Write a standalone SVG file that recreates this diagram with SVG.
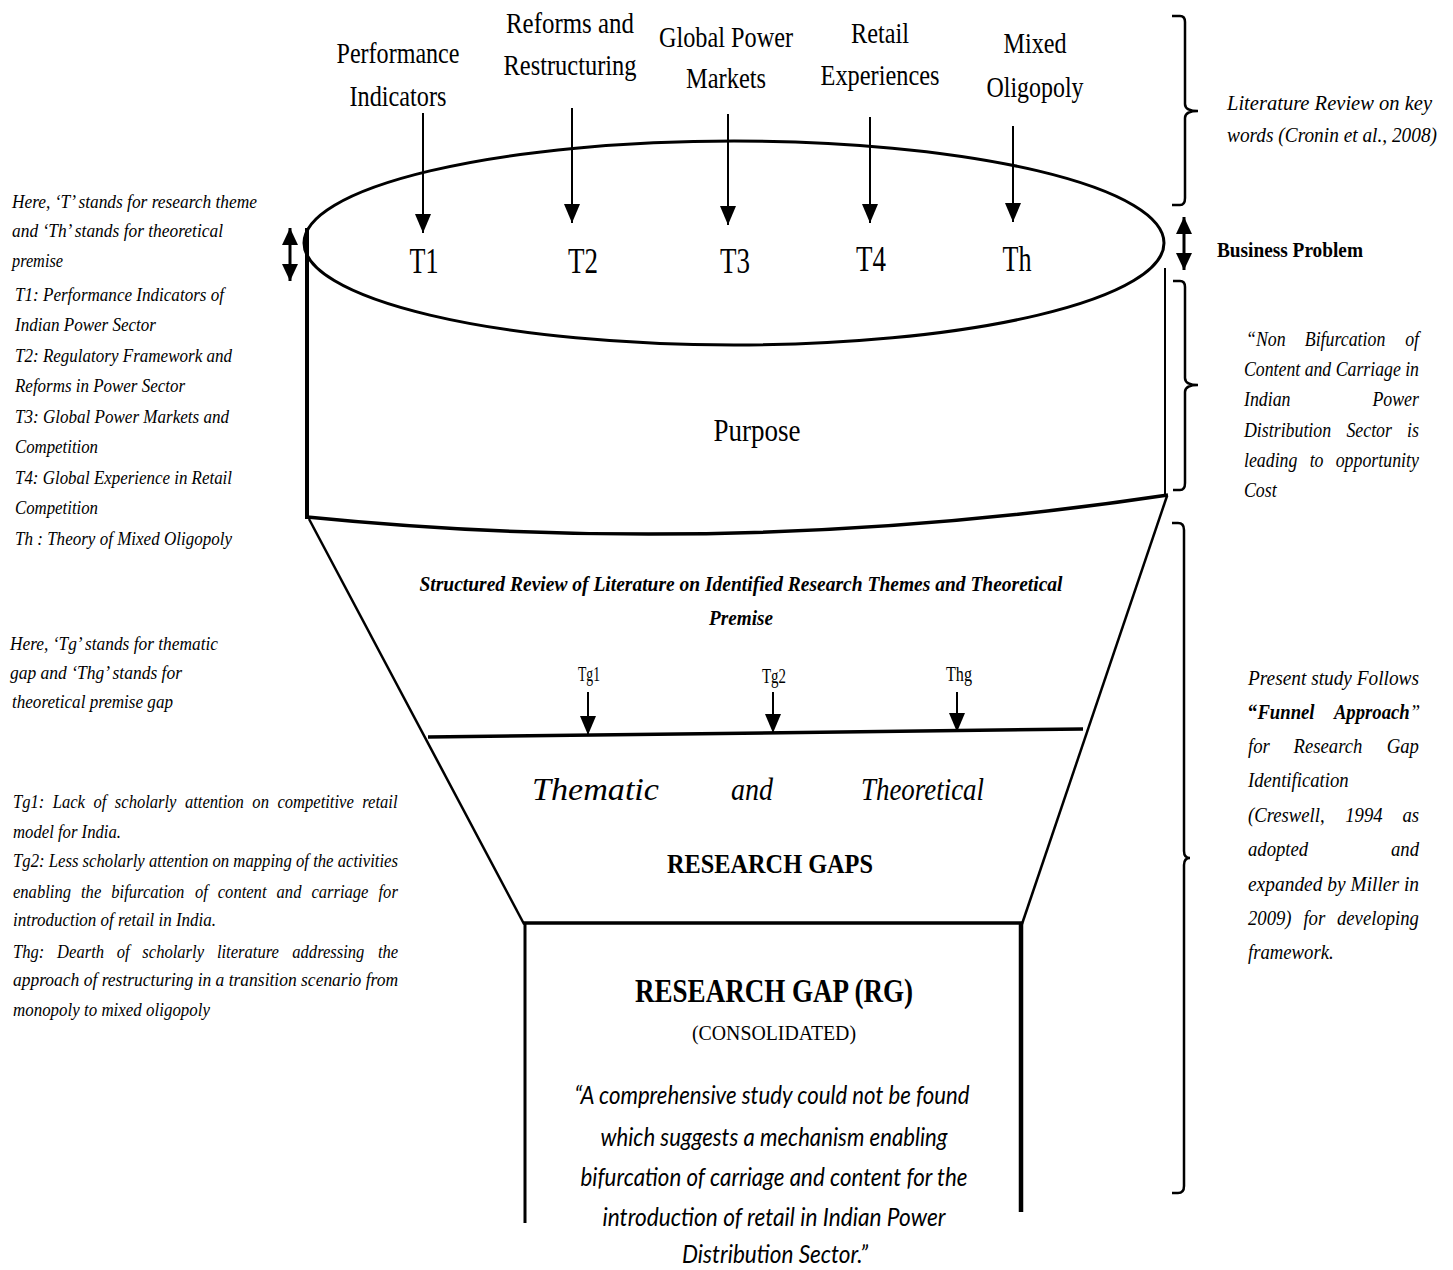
<svg xmlns="http://www.w3.org/2000/svg" width="1453" height="1270" viewBox="0 0 1453 1270">
<style>
  .s { font-family: "Liberation Serif", "Times New Roman", serif; fill: #000; }
  .it { font-style: italic; }
  .b { font-weight: bold; }
  .top { font-size: 30px; text-anchor: middle; }
  .tl { font-size: 36px; text-anchor: middle; }
  .lt { font-size: 19px; font-style: italic; }
  .rt { font-size: 21px; font-style: italic; }
  .q { font-family: Lato, "Open Sans", sans-serif; font-style: italic; font-size: 25px; fill: #000; }
  .ln { fill: none; stroke: #000; stroke-linecap: butt; }
  .arr { stroke: #000; stroke-width: 2; marker-end: url(#ah); }
  .dbl { stroke: #000; stroke-width: 3; marker-start: url(#dh); marker-end: url(#dh); }
</style>
<defs>
  <marker id="ah" markerUnits="userSpaceOnUse" markerWidth="20" markerHeight="18" refX="19" refY="8" orient="auto">
    <path d="M0,0 L19,8 L0,16 z" fill="#000"/>
  </marker>
  <marker id="dh" markerUnits="userSpaceOnUse" markerWidth="18" markerHeight="16" refX="17" refY="8" orient="auto-start-reverse">
    <path d="M0,0 L17,8 L0,16 z" fill="#000"/>
  </marker>
</defs>
<rect width="1453" height="1270" fill="#fff"/>

<!-- Funnel body shapes -->
<g id="cylinder">
  <ellipse cx="734" cy="243" rx="430" ry="102" class="ln" stroke-width="3"/>
  <line x1="307" y1="228" x2="307" y2="519" class="ln" stroke-width="4"/>
  <line x1="1165" y1="268" x2="1165" y2="497" class="ln" stroke-width="2"/>
  <path d="M307,517 Q735,560 1168,495" class="ln" stroke-width="3.5"/>
</g>
<g id="funnel">
  <line x1="309" y1="519" x2="524" y2="924" class="ln" stroke-width="2.5"/>
  <line x1="1167" y1="496" x2="1022" y2="924" class="ln" stroke-width="2.5"/>
  <line x1="428" y1="737" x2="1083" y2="729" class="ln" stroke-width="3.5"/>
</g>
<g id="rg-box">
  <line x1="523" y1="923" x2="1023" y2="923" class="ln" stroke-width="3.5"/>
  <line x1="525" y1="922" x2="525" y2="1223" class="ln" stroke-width="3"/>
  <line x1="1021" y1="922" x2="1021" y2="1212" class="ln" stroke-width="4.5"/>
</g>

<!-- Connectors -->
<g id="connectors">
  <line x1="423" y1="113" x2="423" y2="233" class="arr"/>
  <line x1="572" y1="108" x2="572" y2="223" class="arr"/>
  <line x1="728" y1="114" x2="728" y2="225" class="arr"/>
  <line x1="870" y1="117" x2="870" y2="223" class="arr"/>
  <line x1="1013" y1="126" x2="1013" y2="222" class="arr"/>
  <line x1="588" y1="692" x2="588" y2="735" class="arr"/>
  <line x1="773" y1="692" x2="773" y2="733" class="arr"/>
  <line x1="957" y1="692" x2="957" y2="732" class="arr"/>
  <line x1="290" y1="228" x2="290" y2="281" class="dbl"/>
  <line x1="1184" y1="217" x2="1184" y2="270" class="dbl"/>
</g>

<!-- Brackets -->
<g id="brackets" class="ln" stroke-width="2.5">
  <path d="M1172,16 L1180,16 Q1185,16 1185,22 L1185,104 Q1185,111 1198,111 Q1185,111 1185,118 L1185,198 Q1185,205 1180,205 L1172,205"/>
  <path d="M1173,281 L1180,281 Q1185,281 1185,287 L1185,378 Q1185,385 1198,385 Q1185,385 1185,392 L1185,483 Q1185,490 1180,490 L1173,490"/>
  <path d="M1172,523 L1178,523 Q1184,523 1184,530 L1184,851 Q1184,858 1190,858 Q1184,858 1184,865 L1184,1186 Q1184,1193 1178,1193 L1172,1193"/>
</g>

<!-- Keyword labels -->
<g id="kw-performance" class="s top">
  <text x="398" y="63" textLength="123" lengthAdjust="spacingAndGlyphs">Performance</text>
  <text x="398" y="106" textLength="97" lengthAdjust="spacingAndGlyphs">Indicators</text>
</g>
<g id="kw-reforms" class="s top">
  <text x="570" y="33" textLength="128" lengthAdjust="spacingAndGlyphs">Reforms and</text>
  <text x="570" y="75" textLength="133" lengthAdjust="spacingAndGlyphs">Restructuring</text>
</g>
<g id="kw-global" class="s top">
  <text x="726" y="47" textLength="134" lengthAdjust="spacingAndGlyphs">Global Power</text>
  <text x="726" y="88" textLength="80" lengthAdjust="spacingAndGlyphs">Markets</text>
</g>
<g id="kw-retail" class="s top">
  <text x="880" y="43" textLength="58" lengthAdjust="spacingAndGlyphs">Retail</text>
  <text x="880" y="85" textLength="119" lengthAdjust="spacingAndGlyphs">Experiences</text>
</g>
<g id="kw-mixed" class="s top">
  <text x="1035" y="53" textLength="63" lengthAdjust="spacingAndGlyphs">Mixed</text>
  <text x="1035" y="97" textLength="97" lengthAdjust="spacingAndGlyphs">Oligopoly</text>
</g>

<!-- Theme labels -->
<g id="themes" class="s tl">
  <text x="424" y="273" textLength="29" lengthAdjust="spacingAndGlyphs">T1</text>
  <text x="583" y="273" textLength="30" lengthAdjust="spacingAndGlyphs">T2</text>
  <text x="735" y="273" textLength="30" lengthAdjust="spacingAndGlyphs">T3</text>
  <text x="871" y="271" textLength="30" lengthAdjust="spacingAndGlyphs">T4</text>
  <text x="1017" y="271" textLength="29" lengthAdjust="spacingAndGlyphs">Th</text>
</g>
<g id="purpose">
  <text class="s" x="757" y="441" font-size="31" text-anchor="middle" textLength="87" lengthAdjust="spacingAndGlyphs">Purpose</text>
</g>

<!-- Structured review -->
<g id="structured-review" class="s it b" font-size="21" text-anchor="middle">
  <text x="741" y="591" textLength="643" lengthAdjust="spacingAndGlyphs">Structured Review of Literature on Identified Research Themes and Theoretical</text>
  <text x="741" y="625" textLength="64" lengthAdjust="spacingAndGlyphs">Premise</text>
</g>
<g id="gaps-labels" class="s" font-size="20" text-anchor="middle">
  <text x="589" y="681" textLength="22" lengthAdjust="spacingAndGlyphs">Tg1</text>
  <text x="774" y="683" textLength="24" lengthAdjust="spacingAndGlyphs">Tg2</text>
  <text x="959" y="681" textLength="26" lengthAdjust="spacingAndGlyphs">Thg</text>
</g>
<g id="thematic-gaps">
  <text class="s it" x="532" y="800" font-size="31" textLength="127" lengthAdjust="spacingAndGlyphs">Thematic</text>
  <text class="s it" x="731" y="800" font-size="31" textLength="42" lengthAdjust="spacingAndGlyphs">and</text>
  <text class="s it" x="861" y="800" font-size="31" textLength="123" lengthAdjust="spacingAndGlyphs">Theoretical</text>
  <text class="s b" x="770" y="873" font-size="27" text-anchor="middle" textLength="206" lengthAdjust="spacingAndGlyphs">RESEARCH GAPS</text>
</g>

<!-- Research gap box -->
<g id="research-gap" text-anchor="middle">
  <text class="s b" x="774" y="1002" font-size="34" textLength="278" lengthAdjust="spacingAndGlyphs">RESEARCH GAP (RG)</text>
  <text class="s" x="774" y="1040" font-size="21" textLength="164" lengthAdjust="spacingAndGlyphs">(CONSOLIDATED)</text>
  <text class="q" x="772" y="1104" textLength="395" lengthAdjust="spacingAndGlyphs">“A comprehensive study could not be found</text>
  <text class="q" x="774" y="1146" textLength="347" lengthAdjust="spacingAndGlyphs">which suggests a mechanism enabling</text>
  <text class="q" x="774" y="1186" textLength="387" lengthAdjust="spacingAndGlyphs">bifurcation of carriage and content for the</text>
  <text class="q" x="774" y="1226" textLength="343" lengthAdjust="spacingAndGlyphs">introduction of retail in Indian Power</text>
  <text class="q" x="775" y="1263" textLength="186" lengthAdjust="spacingAndGlyphs">Distribution Sector.”</text>
</g>

<!-- Left notes -->
<g id="note-themes" class="s lt">
  <text x="12" y="208" textLength="245" lengthAdjust="spacingAndGlyphs">Here, ‘T’ stands for research theme</text>
  <text x="12" y="237" textLength="211" lengthAdjust="spacingAndGlyphs">and ‘Th’ stands for theoretical</text>
  <text x="12" y="267" textLength="51" lengthAdjust="spacingAndGlyphs">premise</text>
  <text x="15" y="301" textLength="209" lengthAdjust="spacingAndGlyphs">T1: Performance Indicators of</text>
  <text x="15" y="331" textLength="141" lengthAdjust="spacingAndGlyphs">Indian Power Sector</text>
  <text x="15" y="362" textLength="217" lengthAdjust="spacingAndGlyphs">T2: Regulatory Framework and</text>
  <text x="15" y="392" textLength="170" lengthAdjust="spacingAndGlyphs">Reforms in Power Sector</text>
  <text x="15" y="423" textLength="214" lengthAdjust="spacingAndGlyphs">T3: Global Power Markets and</text>
  <text x="15" y="453" textLength="83" lengthAdjust="spacingAndGlyphs">Competition</text>
  <text x="15" y="484" textLength="217" lengthAdjust="spacingAndGlyphs">T4: Global Experience in Retail</text>
  <text x="15" y="514" textLength="83" lengthAdjust="spacingAndGlyphs">Competition</text>
  <text x="15" y="545" textLength="217" lengthAdjust="spacingAndGlyphs">Th : Theory of Mixed Oligopoly</text>
</g>
<g id="note-gaps" class="s lt">
  <text x="10" y="650" textLength="208" lengthAdjust="spacingAndGlyphs">Here, ‘Tg’ stands for thematic</text>
  <text x="10" y="679" textLength="172" lengthAdjust="spacingAndGlyphs">gap and ‘Thg’ stands for</text>
  <text x="12" y="708" textLength="161" lengthAdjust="spacingAndGlyphs">theoretical premise gap</text>
</g>
<g id="note-gap-defs" class="s lt">
  <g transform="scale(0.85,1)" font-size="19.5">
    <text y="808"><tspan x="15.3">Tg1:</tspan><tspan x="62.1">Lack</tspan><tspan x="110">of</tspan><tspan x="135.1">scholarly</tspan><tspan x="217.6">attention</tspan><tspan x="296.9">on</tspan><tspan x="326.4">competitive</tspan><tspan x="426.2">retail</tspan></text>
    <text y="898"><tspan x="15.3">enabling</tspan><tspan x="95.3">the</tspan><tspan x="131">bifurcation</tspan><tspan x="229.4">of</tspan><tspan x="256.2">content</tspan><tspan x="325.4">and</tspan><tspan x="366.4">carriage</tspan><tspan x="445.3">for</tspan></text>
    <text y="958"><tspan x="15.3">Thg:</tspan><tspan x="67.2">Dearth</tspan><tspan x="137.4">of</tspan><tspan x="167.5">scholarly</tspan><tspan x="255.2">literature</tspan><tspan x="343.9">addressing</tspan><tspan x="444.6">the</tspan></text>
  </g>
  <text x="13" y="838" textLength="108" lengthAdjust="spacingAndGlyphs">model for India.</text>
  <text x="13" y="867" textLength="385" lengthAdjust="spacingAndGlyphs">Tg2: Less scholarly attention on mapping of the activities</text>
  <text x="13" y="926" textLength="203" lengthAdjust="spacingAndGlyphs">introduction of retail in India.</text>
  <text x="13" y="986" textLength="385" lengthAdjust="spacingAndGlyphs">approach of restructuring in a transition scenario from</text>
  <text x="13" y="1016" textLength="197" lengthAdjust="spacingAndGlyphs">monopoly to mixed oligopoly</text>
</g>

<!-- Right notes -->
<g id="note-literature" class="s rt">
  <text x="1227" y="110" textLength="205" lengthAdjust="spacingAndGlyphs">Literature Review on key</text>
  <text x="1227" y="142" textLength="210" lengthAdjust="spacingAndGlyphs">words (Cronin et al., 2008)</text>
</g>
<g id="business-problem">
  <text class="s b" x="1217" y="257" font-size="20" textLength="146" lengthAdjust="spacingAndGlyphs">Business Problem</text>
</g>
<g id="note-problem" class="s it" font-size="21">
  <text x="1244" y="376" textLength="175" lengthAdjust="spacingAndGlyphs">Content and Carriage in</text>
  <g transform="scale(0.85,1)">
    <text y="346"><tspan x="1465.9">“Non</tspan><tspan x="1535">Bifurcation</tspan><tspan x="1653.1">of</tspan></text>
    <text y="406"><tspan x="1463.5">Indian</tspan><tspan x="1614.6">Power</tspan></text>
    <text y="437"><tspan x="1463.5">Distribution</tspan><tspan x="1584">Sector</tspan><tspan x="1655.4">is</tspan></text>
    <text y="467"><tspan x="1463.5">leading</tspan><tspan x="1540.8">to</tspan><tspan x="1571.4">opportunity</tspan></text>
    <text x="1463.5" y="497">Cost</text>
  </g>
</g>
<g id="note-funnel" class="s it" font-size="22">
  <text x="1248" y="685" textLength="171" lengthAdjust="spacingAndGlyphs">Present study Follows</text>
  <text x="1248" y="891" textLength="171" lengthAdjust="spacingAndGlyphs">expanded by Miller in</text>
  <g transform="scale(0.85,1)">
    <text y="719"><tspan x="1468.2" font-style="normal" font-weight="bold">“</tspan><tspan x="1479.3" font-weight="bold">Funnel</tspan><tspan x="1569.3" font-weight="bold">Approach</tspan><tspan x="1658.5">”</tspan></text>
    <text y="753"><tspan x="1468.2">for</tspan><tspan x="1521.8">Research</tspan><tspan x="1631.5">Gap</tspan></text>
    <text x="1468.2" y="787">Identification</text>
    <text y="822"><tspan x="1468.2">(Creswell,</tspan><tspan x="1582.6">1994</tspan><tspan x="1649.9">as</tspan></text>
    <text y="856"><tspan x="1468.2">adopted</tspan><tspan x="1636.5">and</tspan></text>
    <text y="925"><tspan x="1468.2">2009)</tspan><tspan x="1533.4">for</tspan><tspan x="1572.9">developing</tspan></text>
    <text x="1468.2" y="959">framework.</text>
  </g>
</g>
</svg>
